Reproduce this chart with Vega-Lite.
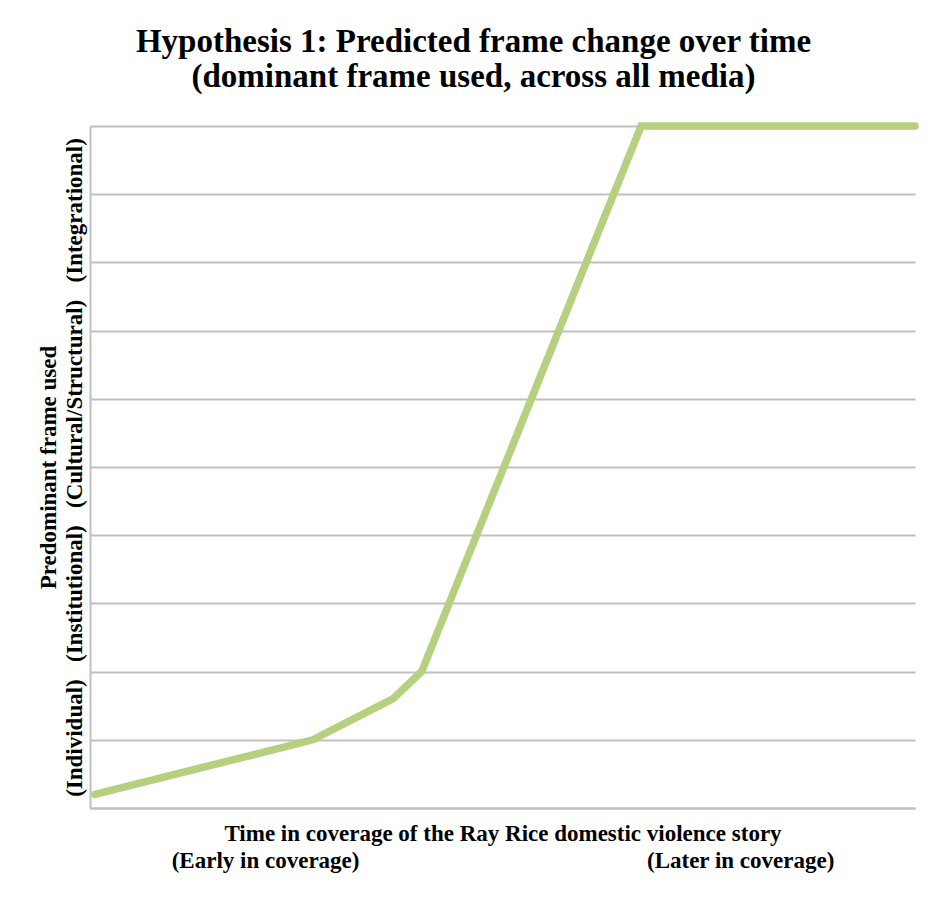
{
  "$schema": "https://vega.github.io/schema/vega-lite/v6.json",
  "autosize": "none",
  "width": 825,
  "height": 682,
  "padding": {"left": 90, "top": 126, "right": 29, "bottom": 93},
  "background": "white",
  "config": {"view": {"stroke": null}, "font": "Liberation Serif"},
  "title": {
    "text": ["Hypothesis 1: Predicted frame change over time", "(dominant frame used, across all media)"],
    "font": "Liberation Serif",
    "fontSize": 33,
    "fontWeight": "bold",
    "color": "black",
    "anchor": "middle",
    "dx": -29,
    "offset": 17,
    "lineHeight": 35
  },
  "data": {
    "values": [
      {"t": 0.6, "frame": 0.2},
      {"t": 27.0, "frame": 1.0},
      {"t": 36.7, "frame": 1.6},
      {"t": 40.2, "frame": 2.0},
      {"t": 66.8, "frame": 10},
      {"t": 100, "frame": 10}
    ]
  },
  "mark": {"type": "line", "color": "#b5d07e", "strokeWidth": 7.5, "strokeCap": "round", "strokeJoin": "miter"},
  "encoding": {
    "x": {
      "field": "t", "type": "quantitative",
      "scale": {"domain": [0, 100], "nice": false, "zero": false},
      "axis": {
        "title": ["Time in coverage of the Ray Rice domestic violence story", "(Early in coverage)\u00a0\u00a0\u00a0\u00a0\u00a0\u00a0\u00a0\u00a0\u00a0\u00a0\u00a0\u00a0\u00a0\u00a0\u00a0\u00a0\u00a0\u00a0\u00a0\u00a0\u00a0\u00a0\u00a0\u00a0\u00a0\u00a0\u00a0\u00a0\u00a0\u00a0\u00a0\u00a0\u00a0\u00a0\u00a0\u00a0\u00a0\u00a0\u00a0\u00a0\u00a0\u00a0\u00a0\u00a0\u00a0\u00a0\u00a0\u00a0\u00a0\u00a0(Later in coverage)"],
        "titleFont": "Liberation Serif",
        "titleFontSize": 23,
        "titleFontWeight": "bold",
        "titleColor": "black",
        "titleLineHeight": 27,
        "titlePadding": 14,
        "labels": false,
        "ticks": false,
        "grid": false,
        "domainColor": "#c0c0c0",
        "domainWidth": 2
      }
    },
    "y": {
      "field": "frame", "type": "quantitative",
      "scale": {"domain": [0, 10], "nice": false},
      "axis": {
        "title": ["Predominant frame used", "(Individual)\u00a0\u00a0\u00a0(Institutional)\u00a0\u00a0\u00a0(Cultural/Structural)\u00a0\u00a0\u00a0(Integrational)"],
        "titleFont": "Liberation Serif",
        "titleFontSize": 23,
        "titleFontWeight": "bold",
        "titleColor": "black",
        "titleLineHeight": 26,
        "titlePadding": 4,
        "labels": false,
        "ticks": false,
        "values": [0, 1, 2, 3, 4, 5, 6, 7, 8, 9, 10],
        "grid": true,
        "gridColor": "#c0c0c0",
        "gridWidth": 2,
        "gridOpacity": 1,
        "domainColor": "#c0c0c0",
        "domainWidth": 2
      }
    }
  }
}
